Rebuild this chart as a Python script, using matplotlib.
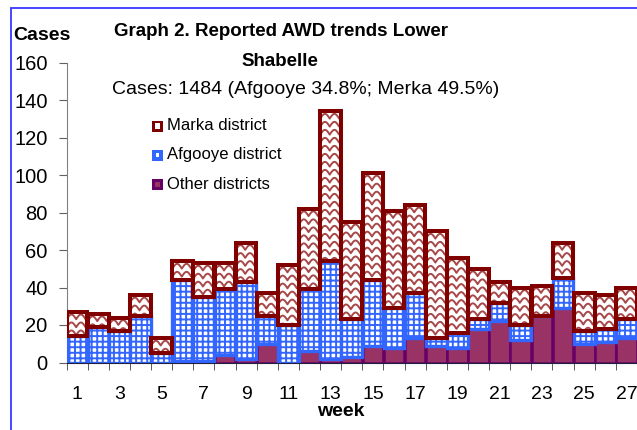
import matplotlib
matplotlib.use('Agg')
import matplotlib.pyplot as plt
import numpy as np
from matplotlib.patches import Rectangle

plt.rcParams['font.family'] = ['Liberation Sans', 'DejaVu Sans']
plt.rcParams['hatch.linewidth'] = 1.4

# ---------------- data ----------------
weeks = list(range(1, 28))
other = [0, 0, 0, 0, 0, 1, 1, 4, 2, 10, 0, 6, 2, 3, 9, 8, 13, 9, 8, 18, 22, 12, 25, 29, 10, 11, 13]
afgooye = [14, 19, 17, 25, 5, 43, 34, 35, 41, 15, 20, 33, 52, 20, 35, 21, 24, 4, 8, 5, 10, 8, 0, 16, 7, 7, 10]
marka = [13, 7, 7, 11, 8, 10, 18, 14, 21, 12, 32, 43, 80, 52, 57, 52, 47, 57, 40, 27, 11, 20, 16, 19, 20, 18, 17]
xtick_weeks = list(range(1, 28, 2))
yticks = list(range(0, 161, 20))
series_names = ['Marka district', 'Afgooye district', 'Other districts']

W, H = 637, 430
fig = plt.figure(figsize=(W / 100, H / 100), dpi=100)


def fx(x):
    return x / W


def fy(y):
    return 1 - y / H


ax = fig.add_axes([fx(66.5), fy(362.5), 1 - fx(66.5), (362.5 - 62.5) / H])
ax.set_xlim(0.5, 27.33)
ax.set_ylim(0, 160)

bw = 0.98
other_a = np.array(other, float)
afg_a = np.array(afgooye, float)
mk_a = np.array(marka, float)

ax.bar(weeks, other_a, width=bw, facecolor='#993366', edgecolor='#660066',
       linewidth=1.8, zorder=2)
ax.bar(weeks, afg_a, bottom=other_a, width=bw, facecolor='white',
       edgecolor='#3366FF', hatch='+++', linewidth=2.4, zorder=3)
mk_face = ax.bar(weeks, mk_a, bottom=other_a + afg_a, width=bw, facecolor='white',
                 edgecolor='none', linewidth=0, zorder=4)

# wavy hatch for Marka bars
fig.canvas.draw()
p0 = ax.transData.transform((0, 0))
p1 = ax.transData.transform((1, 1))
ppx = p1[0] - p0[0]
ppy = p1[1] - p0[1]
row_px, period_px, amp_px = 8.0, 9.5, 2.4
for rect in mk_face.patches:
    x0 = rect.get_x()
    x1 = x0 + rect.get_width()
    yb = rect.get_y()
    yt = yb + rect.get_height()
    xs = np.linspace(x0 - 0.1, x1 + 0.1, 120)
    segx, segy = [], []
    yrow = yt - 5 / ppy
    while yrow > yb - 5 / ppy:
        ys = yrow + amp_px / ppy * (2 * np.abs(np.sin(np.pi * (xs - x0) * ppx / period_px)) - 1)
        segx.extend(list(xs) + [np.nan])
        segy.extend(list(ys) + [np.nan])
        yrow -= row_px / ppy
    ln, = ax.plot(segx, segy, color='#A84848', lw=1.4, zorder=4.5)
    ln.set_clip_path(rect)

ax.bar(weeks, mk_a, bottom=other_a + afg_a, width=bw, facecolor='none',
       edgecolor='#800000', linewidth=2.9, zorder=5)

# axes styling
for s in ['top', 'right']:
    ax.spines[s].set_visible(False)
ax.spines['left'].set_color('#808080')
ax.spines['bottom'].set_color('#202040')
ax.spines['bottom'].set_zorder(6)

ax.set_yticks(yticks)
ax.set_yticklabels([str(v) for v in yticks], fontsize=14.5)
ax.tick_params(axis='y', length=6, color='#606060', pad=7.5, direction='out')

ax.set_xticks(xtick_weeks)
ax.set_xticklabels([str(v) for v in xtick_weeks], fontsize=14)
ax.tick_params(axis='x', which='major', length=0, pad=17)
ax.set_xticks(np.arange(0.5, 28, 1.0), minor=True)
ax.tick_params(axis='x', which='minor', length=5, color='#404040', direction='out')

# texts
fig.text(fx(13), fy(35), 'Cases', fontsize=14, fontweight='bold', ha='left', va='center')
fig.text(fx(281), fy(32), 'Graph 2. Reported AWD trends Lower', fontsize=13.5,
         fontweight='bold', ha='center', va='center')
fig.text(fx(280), fy(62), 'Shabelle', fontsize=13.5, fontweight='bold', ha='center', va='center')
fig.text(fx(306), fy(90), 'Cases: 1484 (Afgooye 34.8%; Merka 49.5%)', fontsize=14,
         ha='center', va='center')
fig.text(fx(341), fy(411), 'week', fontsize=14, fontweight='bold', ha='center', va='center')

# legend (manual)
leg_rows = [(126, '#800000', 'white'), (155, '#3366FF', 'white'), (184, '#660066', '#993366')]
inner_sz = [5, 3, 5]
for (yc, outer, inner), name, isz in zip(leg_rows, series_names, inner_sz):
    fig.add_artist(Rectangle((fx(151.5), fy(yc + 5.5)), 11 / W, 11 / H,
                             transform=fig.transFigure, facecolor=outer, edgecolor='none'))
    fig.add_artist(Rectangle((fx(157 - isz / 2), fy(yc + isz / 2)), isz / W, isz / H,
                             transform=fig.transFigure, facecolor=inner, edgecolor='none'))
    fig.text(fx(167), fy(yc), name, fontsize=12, ha='left', va='center')

# blue border
fig.add_artist(Rectangle((fx(10.5), fy(450)), 700 / W, (450 - 7.5) / H,
                         transform=fig.transFigure, facecolor='none',
                         edgecolor='#3838FF', linewidth=1.3))

fig.savefig('out.png', dpi=100)
